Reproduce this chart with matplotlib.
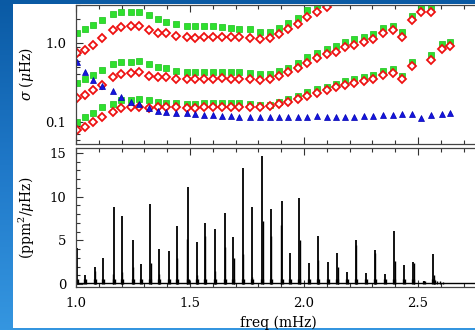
import numpy as np
import matplotlib
matplotlib.use("Agg")
import matplotlib.pyplot as plt
from matplotlib.ticker import FixedLocator, MultipleLocator, NullFormatter, FixedFormatter
from matplotlib.patches import Rectangle

nan = np.nan

# mode frequencies (mHz) for the linewidth panel
freq = [1.003, 1.039, 1.076, 1.113, 1.161, 1.196, 1.241, 1.278, 1.321, 1.358,
        1.395, 1.439, 1.486, 1.522, 1.561, 1.602, 1.639, 1.680, 1.716, 1.763,
        1.807, 1.851, 1.890, 1.931, 1.972, 2.012, 2.056, 2.100, 2.139, 2.180,
        2.221, 2.264, 2.304, 2.348, 2.389, 2.431, 2.472, 2.513, 2.557, 2.604,
        2.640]

green_top = [1.327, 1.491, 1.690, 1.955, 2.329, 2.490, 2.447, 2.490, 2.262, 1.995,
             1.861, 1.740, 1.656, 1.641, 1.641, 1.627, 1.609, 1.549, 1.504, 1.491,
             1.390, 1.390, 1.562, 1.807, 2.091, 2.617, 3.000, nan, nan, nan,
             nan, nan, nan, nan, nan, nan, nan, nan, nan, nan, nan]
red_top = [0.741, 0.815, 0.943, 1.147, 1.461, 1.580, 1.641, 1.641, 1.461, 1.327,
           1.327, 1.237, 1.181, 1.167, 1.181, 1.181, 1.202, 1.202, 1.181, 1.147,
           1.114, 1.167, 1.300, 1.491, 1.725, 2.115, 2.447, 2.881, nan, nan,
           nan, nan, nan, nan, nan, nan, nan, nan, nan, nan, nan]

green_mid = [0.309, 0.347, 0.394, 0.455, 0.537, 0.580, 0.580, 0.592, 0.542, 0.501,
             0.478, 0.446, 0.433, 0.433, 0.433, 0.433, 0.433, 0.433, 0.426, 0.414,
             0.405, 0.405, 0.442, 0.487, 0.553, 0.671, 0.754, 0.832, 0.924, 1.039,
             1.114, 1.202, 1.288, 1.535, 1.656, 1.366, 2.197, 2.881, 2.881, nan, nan]
red_mid = [0.200, 0.220, 0.254, 0.294, 0.375, 0.405, 0.421, 0.433, 0.382, 0.368,
           0.368, 0.350, 0.347, 0.350, 0.350, 0.353, 0.357, 0.350, 0.350, 0.347,
           0.340, 0.350, 0.382, 0.433, 0.478, 0.563, 0.640, 0.719, 0.776, 0.882,
           0.943, 1.021, 1.114, 1.327, 1.461, 1.181, 1.955, 2.447, 2.447, nan, nan]

green_low = [0.101, 0.115, 0.129, 0.154, 0.168, 0.190, 0.190, 0.194, 0.190, 0.181,
             0.176, 0.173, 0.169, 0.168, 0.173, 0.173, 0.173, 0.173, 0.173, 0.169,
             0.164, 0.164, 0.181, 0.196, 0.213, 0.242, 0.259, 0.280, 0.303, 0.330,
             0.347, 0.368, 0.394, 0.442, 0.465, 0.382, 0.580, nan, 0.705, 0.963, 1.021]
red_low = [0.079, 0.087, 0.101, 0.117, 0.135, 0.149, 0.154, 0.154, 0.152, 0.154,
           0.154, 0.154, 0.149, 0.149, 0.154, 0.154, 0.156, 0.156, 0.156, 0.154,
           0.154, 0.159, 0.169, 0.181, 0.196, 0.215, 0.235, 0.254, 0.275, 0.294,
           0.309, 0.330, 0.347, 0.394, 0.414, 0.347, 0.516, nan, 0.609, 0.839, 0.916]

blue = [0.580, 0.433, 0.340, 0.286, 0.249, 0.206, 0.181, 0.169, 0.149, 0.139,
        0.133, 0.129, 0.129, 0.126, 0.123, 0.123, 0.120, 0.120, 0.117, 0.117,
        0.115, 0.115, 0.115, 0.115, 0.115, 0.115, 0.119, 0.115, 0.117, 0.117,
        0.117, 0.119, 0.119, 0.122, 0.123, 0.126, 0.126, 0.111, 0.123, 0.126, 0.131]

# power spectrum: main peaks
peak_freq = [1.006, 1.039, 1.083, 1.120, 1.165, 1.200, 1.251, 1.284, 1.326, 1.365,
             1.409, 1.445, 1.491, 1.529, 1.566, 1.610, 1.654, 1.690, 1.734, 1.771,
             1.816, 1.857, 1.902, 1.939, 1.979, 2.023, 2.060, 2.104, 2.145, 2.189,
             2.227, 2.271, 2.312, 2.355, 2.395, 2.439, 2.479, 2.528, 2.566]
peak_power = [4.1, 1.0, 1.9, 3.0, 8.8, 7.8, 5.0, 2.3, 9.2, 4.0,
              3.8, 6.6, 11.1, 4.8, 7.0, 6.3, 8.1, 5.4, 13.3, 8.8,
              14.7, 8.6, 9.5, 3.6, 9.9, 2.4, 5.5, 2.5, 3.5, 1.4,
              5.0, 1.3, 3.9, 1.1, 6.1, 2.2, 2.5, 0.35, 3.4]

# weaker spikes beside the main peaks and the high-frequency tail
side_freq = [1.085, 1.163, 1.202, 1.250, 1.327, 1.362, 1.443, 1.487, 1.530, 1.567,
             1.609, 1.653, 1.691, 1.733, 1.772, 1.818, 1.856, 1.900, 1.981, 2.062,
             2.147, 2.229, 2.313, 2.397, 2.481, 2.569, 2.576, 2.585, 2.596, 2.610]
side_power = [1.5, 1.2, 1.4, 2.0, 2.4, 1.2, 3.0, 5.2, 1.0, 5.5,
              1.5, 4.2, 3.0, 3.4, 0.8, 7.2, 5.5, 6.7, 5.0, 2.8,
              1.9, 4.5, 3.6, 2.6, 2.4, 1.0, 0.5, 0.35, 0.3, 0.2]

plt.rcParams['font.family'] = ['DejaVu Serif']
plt.rcParams['mathtext.fontset'] = 'dejavuserif'

fig = plt.figure(figsize=(4.75, 3.3), dpi=100)

# blue slide background with white panel
bg = fig.add_axes([0, 0, 1, 1], zorder=-1)
grad = np.linspace(0, 1, 256).reshape(-1, 1)
cmap = matplotlib.colors.LinearSegmentedColormap.from_list('slide', ['#0a5aa4', '#1f78c8', '#3596e0'])
bg.imshow(grad, aspect='auto', cmap=cmap, extent=[0, 1, 0, 1], origin='upper')
bg.add_patch(Rectangle((13 / 475, 2 / 330), 1, 324 / 330, color='white', lw=0))
bg.set_xlim(0, 1)
bg.set_ylim(0, 1)
bg.axis('off')

xmax = 1 + (475 * 1.01 - 76) / 228
left = 76 / 475
width = 1.01 - left

ax1 = fig.add_axes([left, 1 - 144 / 330, width, 139 / 330])
ax2 = fig.add_axes([left, 1 - 287 / 330, width, 139 / 330])

ms_sq, ms_dia, ms_tri = 3.8, 4.3, 5.0
for g, r in [(green_top, red_top), (green_mid, red_mid), (green_low, red_low)]:
    ax1.plot(freq, g, ls='none', marker='s', ms=ms_sq, mfc='#2ee02e', mec='#18c018', mew=0.5)
    ax1.plot(freq, r, ls='none', marker='D', ms=ms_dia, mfc='white', mec='#ee1010', mew=1.3)
ax1.plot(freq, blue, ls='none', marker='^', ms=ms_tri, mfc='#1515e0', mec='#0000b0', mew=0.5)

ax1.set_yscale('log')
ax1.set_ylim(0.0527, 3.03)
ax1.set_xlim(1.0, xmax)
ax1.yaxis.set_major_locator(FixedLocator([0.1, 1.0]))
ax1.yaxis.set_major_formatter(FixedFormatter(['0.1', '1.0']))
ax1.yaxis.set_minor_locator(FixedLocator([0.06, 0.07, 0.08, 0.09, 0.2, 0.3, 0.4, 0.5,
                                          0.6, 0.7, 0.8, 0.9, 2.0, 3.0]))
ax1.yaxis.set_minor_formatter(NullFormatter())
ax1.xaxis.set_major_locator(MultipleLocator(0.5))
ax1.xaxis.set_minor_locator(MultipleLocator(0.1))
ax1.xaxis.set_major_formatter(NullFormatter())
ax1.set_ylabel(r'$\sigma$ ($\mu$Hz)', fontsize=10, labelpad=7)

# spectrum: baseline, broadened bases, then the spikes
ax2.hlines(0.08, 1.0, xmax, color='black', lw=1.0)
ax2.vlines(peak_freq, 0, np.minimum(peak_power, 0.6), color='black', lw=2.4)
ax2.vlines(side_freq, 0, side_power, color='black', lw=1.0)
ax2.vlines(peak_freq, 0, peak_power, color='black', lw=1.3)

ax2.set_xlim(1.0, xmax)
ax2.set_ylim(-0.34, 15.57)
ax2.xaxis.set_major_locator(MultipleLocator(0.5))
ax2.xaxis.set_minor_locator(MultipleLocator(0.1))
ax2.xaxis.set_major_formatter(matplotlib.ticker.FormatStrFormatter('%.1f'))
ax2.yaxis.set_major_locator(MultipleLocator(5))
ax2.yaxis.set_minor_locator(MultipleLocator(1))
ax2.set_xlabel('freq (mHz)', fontsize=10, labelpad=4)
ax2.set_ylabel(r'(ppm$^2$/$\mu$Hz)', fontsize=10, labelpad=9)

for ax in (ax1, ax2):
    ax.tick_params(which='both', direction='in', top=True, right=False,
                   labelsize=9.5, width=0.8, colors='#333333', labelcolor='black')
    ax.tick_params(which='major', length=5, pad=7)
    ax.tick_params(which='minor', length=3)
    for s in ax.spines.values():
        s.set_linewidth(0.9)
        s.set_color('#444444')
    ax.spines['right'].set_visible(False)

fig.savefig('out.png', dpi=100)
